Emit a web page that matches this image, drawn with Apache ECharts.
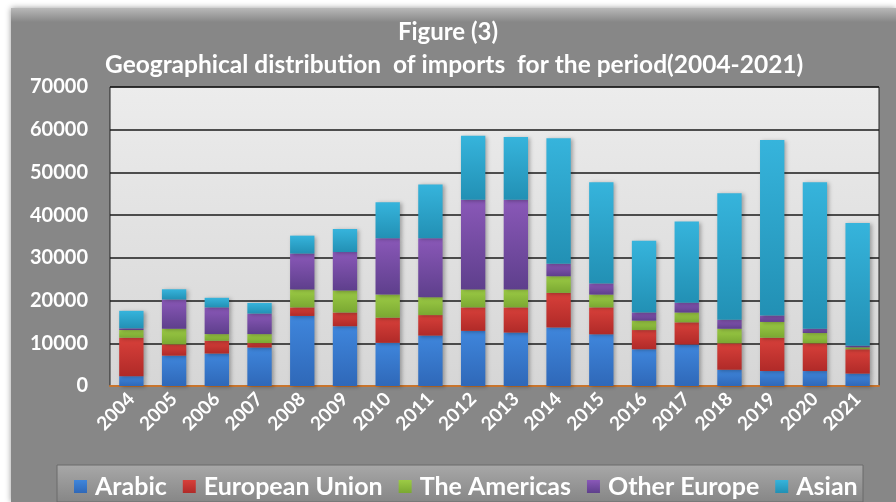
<!DOCTYPE html>
<html><head><meta charset="utf-8">
<script src="https://cdn.jsdelivr.net/npm/echarts@6/dist/echarts.min.js"></script>
<style>html,body{margin:0;padding:0;background:#fff}#c{width:896px;height:502px}</style>
</head><body><div id="c"></div>
<script>
const years = ['2004','2005','2006','2007','2008','2009','2010','2011','2012','2013','2014','2015','2016','2017','2018','2019','2020','2021'];
const arabic       = [2300, 7100, 7600, 9000, 16400, 14000, 10100, 11800, 12900, 12500, 13700, 12100, 8600, 9700, 3800, 3500, 3500, 2900];
const europeanUnion= [9000, 2650, 3000, 1050, 2000, 3200, 5900, 4800, 5500, 5900, 8100, 6300, 4500, 5200, 6200, 7800, 6500, 5700];
const americas     = [1800, 3650, 1550, 2100, 4200, 5150, 5400, 4200, 4200, 4200, 3900, 3000, 2200, 2300, 3400, 3700, 2400, 450];
const otherEurope  = [400, 6850, 6250, 4800, 8400, 9000, 13200, 13800, 21000, 21000, 2900, 2600, 1900, 2300, 2100, 1500, 1000, 400];
const asian        = [4100, 2400, 2250, 2500, 4200, 5400, 8400, 12600, 15000, 14700, 29400, 23700, 16800, 19000, 29600, 41100, 34300, 28700];
const seriesNames  = ['Arabic','European Union','The Americas','Other Europe','Asian'];
const yTicks = [0,10000,20000,30000,40000,50000,60000,70000];

const FONT = 'Lato';
function grad(top, bottom){
  return {type:'linear',x:0,y:0,x2:0,y2:1,colorStops:[{offset:0,color:top},{offset:1,color:bottom}]};
}
const colors = [
  grad('#3f86dc','#2f68b8'),
  grad('#d8403a','#b02a28'),
  grad('#9ccb45','#7aa832'),
  grad('#8a58b8','#5e3f8c'),
  grad('#36b4dc','#2290b4')
];
const legendColors = ['#3a7dd0','#d03a35','#8fc23e','#7a4fa8','#2eaacc'];
const dataSets = [arabic, europeanUnion, americas, otherEurope, asian];

const chart = echarts.init(document.getElementById('c'), null, {renderer:'canvas'});
chart.setOption({
  backgroundColor:'#ffffff',
  animation:false,
  color: legendColors,
  graphic:[
    {type:'rect', z:-10, shape:{x:11,y:8,width:885,height:494},
     style:{fill:'#878787', shadowBlur:6, shadowColor:'rgba(0,0,0,0.4)'}},
    {type:'rect', z:-9, shape:{x:11,y:8,width:885,height:14},
     style:{fill:grad('#b8b8b8','#878787')}},
    {type:'rect', z:-9, shape:{x:57,y:465,width:806,height:37},
     style:{fill:grad('#a8a8a8','#868686'), stroke:'#6a6a6a', lineWidth:1}}
  ],
  title:[
    {text:'Figure (3)', left:'center', top:15,
     textStyle:{color:'#fff', fontFamily:FONT, fontWeight:'bold', fontSize:24}},
    {text:'Geographical distribution  of imports  for the period(2004-2021)', left:100, top:48,
     textStyle:{color:'#fff', fontFamily:FONT, fontWeight:'bold', fontSize:24.5}}
  ],
  legend:{
    data:seriesNames, left:69, top:469,
    icon:'rect', itemWidth:13, itemHeight:13, itemGap:16,
    textStyle:{color:'#fff', fontFamily:FONT, fontWeight:'bold', fontSize:25, padding:[0,0,0,3]}
  },
  grid:{left:110, right:17, top:87, bottom:116, show:true,
        backgroundColor:grad('#ececec','#d6d6d6'), borderColor:'#222', borderWidth:1},
  xAxis:{type:'category', data:years,
    axisLine:{show:true, lineStyle:{color:'#c8742c', width:2}},
    axisTick:{show:false},
    axisLabel:{rotate:45, margin:10, color:'#fff', fontFamily:FONT, fontWeight:'bold', fontSize:19, interval:0}},
  yAxis:{type:'value', min:0, max:70000, interval:10000,
    axisLine:{show:false}, axisTick:{show:false},
    splitLine:{lineStyle:{color:'#1a1a1a', width:1.5}},
    axisLabel:{margin:22, color:'#fff', fontFamily:FONT, fontWeight:'bold', fontSize:20,
      formatter:v=> yTicks.includes(v) ? String(v) : ''}},
  series: seriesNames.map((n,i)=>({
    name:n, type:'bar', stack:'total', data:dataSets[i], barWidth:'57%',
    itemStyle:{color:colors[i], shadowBlur:4, shadowColor:'rgba(0,0,0,0.3)', shadowOffsetX:2, shadowOffsetY:1}
  }))
});
</script></body></html>
